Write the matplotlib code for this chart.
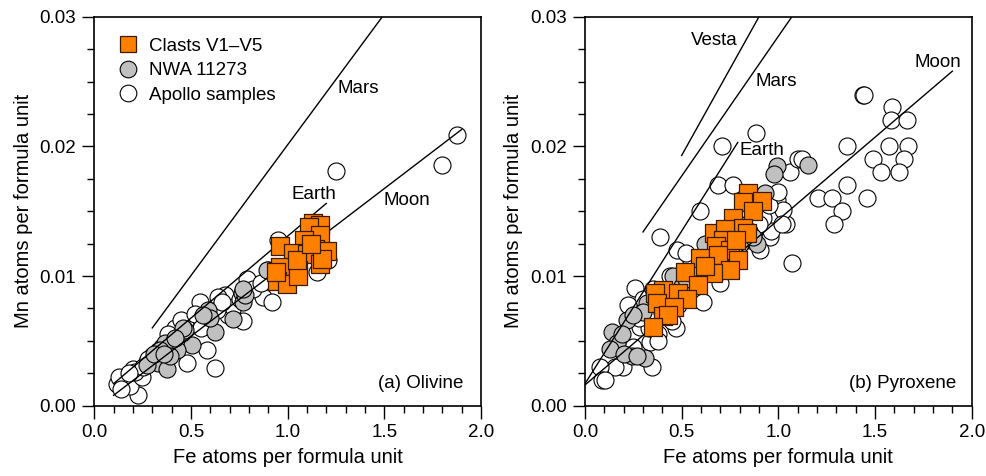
import matplotlib
matplotlib.use("Agg")
import matplotlib.pyplot as plt
from matplotlib.ticker import MultipleLocator, FormatStrFormatter
from matplotlib.lines import Line2D

plt.rcParams['font.family'] = ['Liberation Sans', 'DejaVu Sans']

# ---- olivine data (Fe, Mn atoms per formula unit) ----
ol_apollo_fe = [1.874, 1.80, 1.25, 0.952, 1.15, 1.21, 0.788, 0.871, 0.917, 0.676,
                0.641, 0.547, 0.771, 0.581, 0.624, 0.478, 0.228, 0.150, 0.116, 0.184,
                0.245, 0.271, 0.202, 0.512, 0.443, 0.391, 0.693, 0.719, 0.633, 0.340,
                0.753, 0.90, 0.56, 0.47, 0.30, 0.35, 0.42, 0.59, 0.13, 0.21,
                0.25, 0.28, 0.33, 0.38, 0.45, 0.52, 0.55, 0.66, 0.82, 0.86, 0.18, 0.14]
ol_apollo_mn = [0.0209, 0.0186, 0.0181, 0.0128, 0.0103, 0.0112, 0.0098, 0.0084, 0.0080, 0.0085,
                0.0084, 0.0080, 0.0065, 0.0043, 0.0029, 0.0033, 0.0008, 0.0020, 0.0017, 0.0015,
                0.0022, 0.0034, 0.0028, 0.0066, 0.0056, 0.0051, 0.0070, 0.0076, 0.0074, 0.0040,
                0.0082, 0.0105, 0.0070, 0.0062, 0.0038, 0.0045, 0.0060, 0.0065, 0.0022, 0.0026,
                0.0030, 0.0036, 0.0042, 0.0055, 0.0066, 0.0071, 0.0060, 0.0080, 0.0090, 0.0095,
                0.0025, 0.0013]
ol_nwa_fe = [0.891, 0.762, 0.771, 0.719, 0.624, 0.590, 0.503, 0.452, 0.426, 0.366,
             0.340, 0.331, 0.374, 0.271, 0.391, 0.469, 0.31, 0.60, 0.78,
             0.46, 0.42, 0.36, 0.56, 0.77]
ol_nwa_mn = [0.0105, 0.0087, 0.0080, 0.0067, 0.0057, 0.0074, 0.0047, 0.0056, 0.0043, 0.0048,
             0.0043, 0.0033, 0.0028, 0.0031, 0.0038, 0.0058, 0.0040, 0.0068, 0.0085,
             0.0060, 0.0052, 0.0040, 0.0070, 0.0090]
ol_clast_fe = [1.133, 1.167, 1.110, 1.167, 1.084, 0.960, 1.141, 1.203, 1.029, 1.10,
               0.960, 1.055, 1.167, 0.943, 0.995, 1.055, 0.94, 1.05, 1.18, 1.12]
ol_clast_mn = [0.0141, 0.0139, 0.0138, 0.0132, 0.0128, 0.0123, 0.0121, 0.0119, 0.0118, 0.0117,
               0.0107, 0.0105, 0.0109, 0.0096, 0.0094, 0.0100, 0.0103, 0.0112, 0.0113, 0.0125]

# ---- pyroxene data ----
px_apollo_fe = [1.436, 1.445, 1.588, 1.583, 1.664, 1.572, 1.672, 1.491, 1.65, 1.529,
                1.624, 1.353, 1.353, 1.207, 1.276, 1.457, 1.328, 1.288, 1.040, 1.069,
                0.883, 0.707, 0.388, 0.595, 0.690, 0.764, 1.060, 1.103, 1.12, 0.991,
                1.026, 0.957, 0.905, 0.259, 0.474, 0.612, 0.336, 0.471, 0.345, 0.198,
                0.155, 0.078, 0.086, 0.105, 0.284, 0.30, 0.853, 0.543, 0.63, 0.55,
                0.40, 0.45, 0.96, 1.02, 0.92, 0.80, 0.70, 0.38, 0.25, 0.50,
                0.35, 0.42, 0.48, 0.55, 0.60, 0.65, 0.75, 0.85, 0.90, 0.95,
                0.33, 0.38, 0.28, 0.22, 0.44, 0.52, 1.00, 0.68]
px_apollo_mn = [0.0240, 0.0240, 0.0230, 0.0220, 0.0220, 0.0200, 0.0200, 0.0190, 0.0190, 0.0180,
                0.0180, 0.0200, 0.0170, 0.0160, 0.0160, 0.0160, 0.0150, 0.0140, 0.0140, 0.0110,
                0.0210, 0.0200, 0.0130, 0.0150, 0.0170, 0.0170, 0.0180, 0.0190, 0.0190, 0.0159,
                0.0151, 0.0130, 0.0120, 0.0091, 0.0120, 0.0080, 0.0049, 0.0060, 0.0030, 0.0030,
                0.0030, 0.0030, 0.0020, 0.0020, 0.0061, 0.0082, 0.0128, 0.0107, 0.0115, 0.0112,
                0.0072, 0.0065, 0.0135, 0.0140, 0.0145, 0.0125, 0.0095, 0.0055, 0.0045, 0.0085,
                0.0090, 0.0085, 0.0078, 0.0095, 0.0110, 0.0120, 0.0135, 0.0150, 0.0140, 0.0155,
                0.0060, 0.0050, 0.0068, 0.0078, 0.0100, 0.0118, 0.0165, 0.0105]
px_nwa_fe = [0.991, 0.978, 1.155, 0.931, 0.888, 0.681, 0.457, 0.319, 0.30, 0.216,
             0.138, 0.164, 0.129, 0.241, 0.310, 0.19, 0.50, 0.62, 0.85, 0.75,
             0.40, 0.52, 0.60, 0.70, 0.80, 0.87, 0.25, 0.36, 0.20, 0.27]
px_nwa_mn = [0.0185, 0.0179, 0.0186, 0.0164, 0.0125, 0.0102, 0.0100, 0.0079, 0.0072, 0.0066,
             0.0057, 0.0048, 0.0044, 0.0038, 0.0037, 0.0055, 0.0092, 0.0125, 0.0135, 0.0120,
             0.0088, 0.0098, 0.0105, 0.0115, 0.0125, 0.0130, 0.0070, 0.0082, 0.0040, 0.0038]
px_clast_fe = [0.845, 0.914, 0.819, 0.867, 0.767, 0.816, 0.669, 0.724, 0.836, 0.716,
               0.68, 0.750, 0.793, 0.595, 0.690, 0.750, 0.664, 0.517, 0.586, 0.405,
               0.483, 0.526, 0.362, 0.374, 0.460, 0.405, 0.431, 0.353, 0.78, 0.62]
px_clast_mn = [0.0164, 0.0158, 0.0157, 0.0150, 0.0145, 0.0137, 0.0133, 0.0136, 0.0133, 0.0128,
               0.0123, 0.0120, 0.0112, 0.0114, 0.0116, 0.0105, 0.0102, 0.0103, 0.0093, 0.0089,
               0.0087, 0.0082, 0.0087, 0.0079, 0.0076, 0.0069, 0.0070, 0.0061, 0.0128, 0.0108]

# planetary Fe/Mn reference lines: (fe endpoints, mn endpoints)
ol_moon = ([0.1, 1.9], [0.0008, 0.0213])
ol_earth = ([0.1, 1.2], [0.0017, 0.0156])
ol_mars = ([0.3, 1.49], [0.0060, 0.0300])
px_moon = ([0.0, 1.9], [0.0016, 0.0258])
px_earth = ([0.0, 0.79], [0.0017, 0.0203])
px_mars = ([0.3, 1.07], [0.0134, 0.0300])
px_vesta = ([0.5, 0.9], [0.0193, 0.0300])

orange = '#FF7F00'
grey = '#C0C0C0'

fig = plt.figure(figsize=(9.87, 4.76), dpi=100)
ax1 = fig.add_axes([0.0955, 0.1477, 0.3918, 0.8172])
ax2 = fig.add_axes([0.5927, 0.1477, 0.3918, 0.8172])


def draw(ax, apo, nwa, cla, lines):
    for xs, ys in lines:
        ax.plot(xs, ys, color='black', lw=1.0, zorder=4)
    ax.scatter(apo[0], apo[1], s=150, facecolor='white', edgecolor='black', linewidth=0.8, zorder=2)
    ax.scatter(nwa[0], nwa[1], s=150, facecolor=grey, edgecolor='black', linewidth=0.8, zorder=3)
    ax.scatter(cla[0], cla[1], s=150, marker='s', facecolor=orange, edgecolor='#3a1a00',
               linewidth=0.9, zorder=5)
    ax.set_xlim(0, 2.0)
    ax.set_ylim(0, 0.03)
    ax.xaxis.set_major_locator(MultipleLocator(0.5))
    ax.xaxis.set_minor_locator(MultipleLocator(0.1))
    ax.yaxis.set_major_locator(MultipleLocator(0.01))
    ax.yaxis.set_minor_locator(MultipleLocator(0.0025))
    ax.xaxis.set_major_formatter(FormatStrFormatter('%.1f'))
    ax.yaxis.set_major_formatter(FormatStrFormatter('%.2f'))
    ax.tick_params(which='major', direction='out', length=9, width=1.0, labelsize=13.5, pad=4)
    ax.tick_params(which='minor', direction='out', length=5, width=1.0)
    for s in ax.spines.values():
        s.set_linewidth(1.2)
    ax.set_xlabel('Fe atoms per formula unit', fontsize=14.5, labelpad=5)
    ax.set_ylabel('Mn atoms per formula unit', fontsize=14.5, labelpad=5)


draw(ax1, (ol_apollo_fe, ol_apollo_mn), (ol_nwa_fe, ol_nwa_mn), (ol_clast_fe, ol_clast_mn),
     [ol_moon, ol_earth, ol_mars])
draw(ax2, (px_apollo_fe, px_apollo_mn), (px_nwa_fe, px_nwa_mn), (px_clast_fe, px_clast_mn),
     [px_moon, px_earth, px_mars, px_vesta])

fs = 13.5
ax1.text(1.365, 0.0245, 'Mars', fontsize=fs, ha='center', va='center')
ax1.text(1.135, 0.0163, 'Earth', fontsize=fs, ha='center', va='center')
ax1.text(1.615, 0.0158, 'Moon', fontsize=fs, ha='center', va='center')
ax1.text(1.91, 0.0017, '(a) Olivine', fontsize=fs, ha='right', va='center')

ax2.text(0.671, 0.0282, 'Vesta', fontsize=fs, ha='center', va='center')
ax2.text(0.989, 0.0250, 'Mars', fontsize=fs, ha='center', va='center')
ax2.text(0.915, 0.0197, 'Earth', fontsize=fs, ha='center', va='center')
ax2.text(1.823, 0.0265, 'Moon', fontsize=fs, ha='center', va='center')
ax2.text(1.92, 0.0017, '(b) Pyroxene', fontsize=fs, ha='right', va='center')

handles = [
    Line2D([], [], marker='s', ls='none', ms=11, mfc=orange, mec='#3a1a00', mew=0.9),
    Line2D([], [], marker='o', ls='none', ms=12, mfc=grey, mec='black', mew=0.8),
    Line2D([], [], marker='o', ls='none', ms=12, mfc='white', mec='black', mew=0.8),
]
ax1.legend(handles, ['Clasts V1\u2013V5', 'NWA 11273', 'Apollo samples'],
           loc='upper left', bbox_to_anchor=(0.03, 0.975), frameon=False, fontsize=13.5,
           handletextpad=0.5, labelspacing=0.4, borderaxespad=0.2, handlelength=1.2)

fig.savefig('out.png', dpi=100)
